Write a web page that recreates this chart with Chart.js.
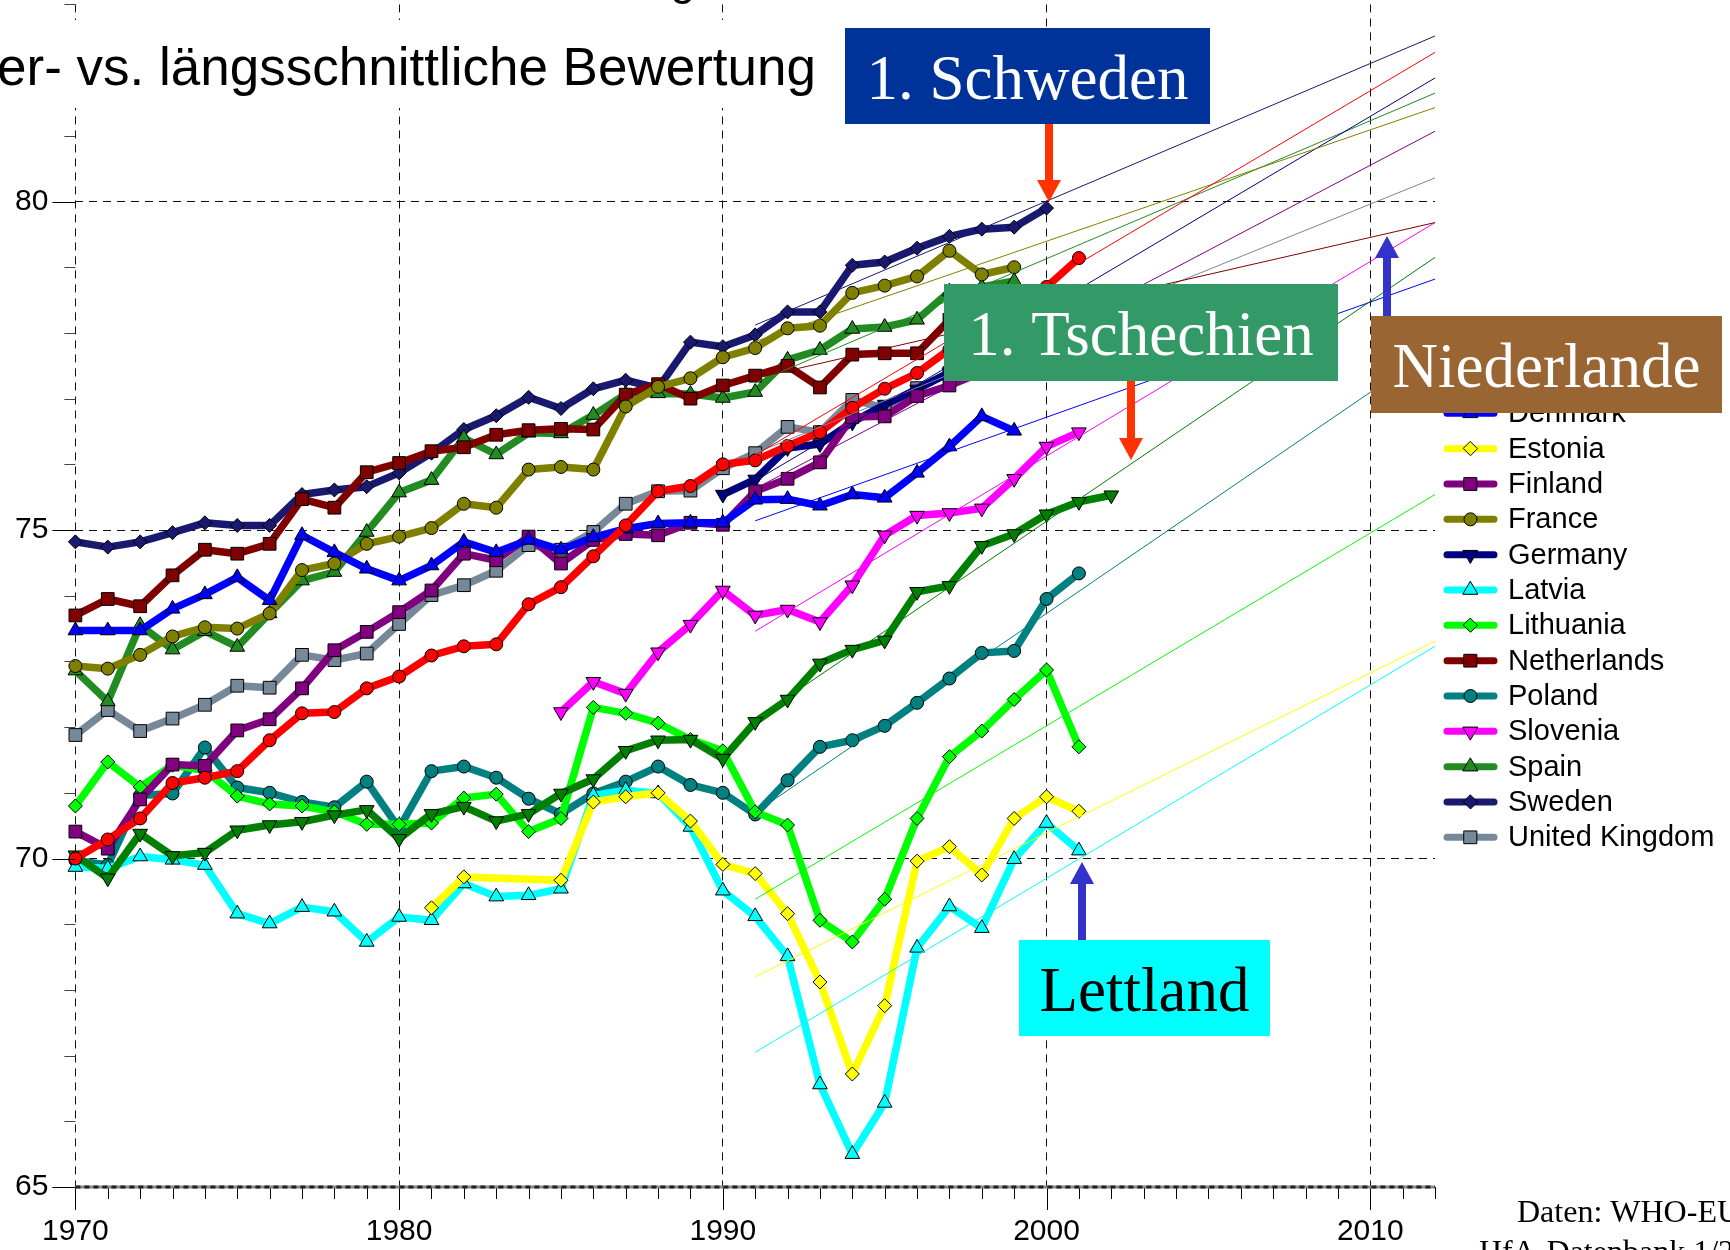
<!DOCTYPE html>
<html>
<head>
<meta charset="utf-8">
<script src="https://cdn.jsdelivr.net/npm/chart.js@4/dist/chart.umd.min.js"></script>
<style>
  html, body { margin: 0; padding: 0; background: #fff; }
  canvas { display: block; }
</style>
</head>
<body>
<canvas id="c" width="1730" height="1250"></canvas>
<script>
// Lebenserwartung bei Geburt, 1970-2002 (gelesen aus der Grafik)
const years = [1970,1971,1972,1973,1974,1975,1976,1977,1978,1979,
               1980,1981,1982,1983,1984,1985,1986,1987,1988,1989,
               1990,1991,1992,1993,1994,1995,1996,1997,1998,1999,
               2000,2001,2002]

const austria     = [70.00,70.29,70.61,71.15,71.23,71.33,71.80,72.21,72.23,72.59, 72.77,73.09,73.23,73.26,73.87,74.13,74.60,75.07,75.59,75.67, 76.00,76.06,76.28,76.49,76.86,77.15,77.39,77.75,77.95,78.20, 78.70,79.14,null]
const czech       = [70.05,69.70,70.38,70.04,70.09,70.43,70.51,70.56,70.66,70.74, 70.30,70.68,70.79,70.57,70.68,70.99,71.21,71.64,71.80,71.81, 71.52,72.08,72.42,72.97,73.18,73.32,74.06,74.15,74.76,74.94, 75.24,75.43,75.53]
const denmark     = [73.47,73.47,73.47,73.80,74.02,74.28,73.93,74.92,74.66,74.41, 74.23,74.46,74.82,74.66,74.85,74.70,74.89,75.02,75.10,75.11, 75.11,75.46,75.47,75.37,75.54,75.49,75.87,76.27,76.73,76.51, null,null,null]
const estonia     = [null,null,null,null,null,null,null,null,null,null, null,69.25,69.72,null,null,69.67,70.86,70.94,71.00,70.57, 69.91,69.77,69.16,68.12,66.72,67.76,69.96,70.18,69.75,70.61, 70.94,70.72,null]
const finland     = [70.41,70.15,70.90,71.43,71.41,71.95,72.12,72.59,73.17,73.45, 73.75,74.08,74.64,74.54,74.90,74.49,74.85,74.94,74.92,75.11, 75.08,75.59,75.78,76.03,76.72,76.73,77.04,77.20,77.40,77.50, 77.70,null,null]
const france      = [72.93,72.89,73.10,73.38,73.52,73.50,73.73,74.39,74.49,74.79, 74.90,75.03,75.40,75.34,75.92,75.96,75.92,76.88,77.18,77.31, 77.63,77.77,78.07,78.11,78.61,78.72,78.86,79.25,78.89,79.00, null,null,null]
const germany     = [null,null,null,null,null,null,null,null,null,null, null,null,null,null,null,null,null,null,null,null, 75.54,75.77,76.25,76.31,76.64,76.91,77.14,77.40,77.60,77.80, null,null,null]
const latvia      = [69.87,69.85,70.03,69.98,69.90,69.16,69.01,69.26,69.19,68.73, 69.11,69.06,69.62,69.42,69.44,69.54,70.96,71.04,70.99,70.48, 69.51,69.12,68.51,66.56,65.50,66.28,68.64,69.27,68.94,69.99, 70.54,70.12,null]
const lithuania   = [70.80,71.47,71.09,71.42,71.34,70.95,70.83,70.80,70.71,70.52, 70.52,70.54,70.92,70.98,70.41,70.61,72.30,72.21,72.06,71.81, 71.64,70.71,70.51,69.06,68.73,69.38,70.61,71.55,71.94,72.42, 72.87,71.70,null]
const netherlands = [73.70,73.95,73.84,74.31,74.70,74.64,74.79,75.47,75.34,75.88, 76.02,76.20,76.26,76.45,76.52,76.54,76.53,77.06,77.22,77.00, 77.20,77.35,77.50,77.17,77.67,77.69,77.69,78.20,78.10,78.10, 78.20,null,null]
const poland      = [69.97,69.90,70.96,70.99,71.69,71.08,71.00,70.86,70.78,71.17, 70.46,71.33,71.40,71.23,70.91,70.68,70.99,71.17,71.40,71.12, 71.00,70.67,71.19,71.70,71.80,72.02,72.37,72.74,73.13,73.16, 73.95,74.34,null]
const slovenia    = [null,null,null,null,null,null,null,null,null,null, null,null,null,null,null,72.23,72.69,72.51,73.14,73.56, 74.08,73.70,73.79,73.60,74.16,74.92,75.22,75.26,75.33,75.78, 76.27,76.49,null]
const spain       = [72.86,72.39,73.55,73.18,73.46,73.22,73.73,74.23,74.36,74.97, 75.57,75.76,76.40,76.15,76.48,76.47,76.75,77.07,77.08,77.07, 77.01,77.10,77.59,77.74,78.06,78.09,78.20,78.63,78.70,78.79, null,null,null]
const sweden      = [74.82,74.74,74.82,74.96,75.11,75.07,75.07,75.54,75.61,75.66, 75.87,76.17,76.53,76.74,77.02,76.85,77.15,77.28,77.16,77.86, 77.79,77.97,78.32,78.32,79.03,79.08,79.29,79.47,79.58,79.61, 79.90,null,null]
const uk          = [71.88,72.26,71.94,72.13,72.34,72.63,72.60,73.10,73.02,73.12, 73.57,74.01,74.16,74.38,74.77,74.70,74.97,75.40,75.59,75.60, 75.94,76.17,76.57,76.49,76.98,76.86,77.16,77.39,77.50,77.60, null,null,null]

const countries = ['Austria','Czech Republic','Denmark','Estonia','Finland','France','Germany',
                   'Latvia','Lithuania','Netherlands','Poland','Slovenia','Spain','Sweden','United Kingdom']
const series = [austria, czech, denmark, estonia, finland, france, germany,
                latvia, lithuania, netherlands, poland, slovenia, spain, sweden, uk]

// lineare Trends (Längsschnitt), 1991 bis 2012
const trendYears = [1991, 2012]
const trendStart = [76.14, 72.12, 75.14, 68.20, 75.63, 77.87, 75.75, 67.05, 69.38, 77.31, 70.70, 73.46, 77.24, 78.12, 76.17]
const trendEnd   = [82.27, 79.15, 78.82, 73.31, 81.07, 81.43, 81.88, 73.23, 75.54, 79.68, 77.77, 79.68, 81.65, 82.52, 80.36]

const xTicks = [1970, 1980, 1990, 2000, 2010]
const yTicks = [65, 70, 75, 80]

// styles
const colors  = ['#ff0000','#008000','#0000ff','#ffff00','#800080','#808000','#000080',
                 '#00ffff','#00ff00','#800000','#008080','#ff00ff','#228b22','#191970','#778899']
const markers = ['circle','triangle','triangle','rectRot','rect','circle','triangle',
                 'triangle','rectRot','rect','circle','triangle','triangle','rectRot','rect']
const flipped = [false,true,false,false,false,false,true,false,false,false,false,true,false,false,false]
const radiusOf = { circle: 6.5, rect: 9, rectRot: 7, triangle: 8.5 }

const trendSets = countries.map((name, i) => ({
  label: name + ' Trend',
  data: trendYears.map((x, k) => ({ x: x, y: k ? trendEnd[i] : trendStart[i] })),
  borderColor: colors[i],
  borderWidth: 1,
  pointRadius: 0,
  order: 0
}))

const dataSets = countries.map((name, i) => ({
  label: name,
  data: years.map((x, k) => ({ x: x, y: series[i][k] })),
  borderColor: colors[i],
  backgroundColor: colors[i],
  borderWidth: 7.5,
  borderJoinStyle: 'round',
  borderCapStyle: 'round',
  pointStyle: markers[i],
  pointRotation: flipped[i] ? 180 : 0,
  pointRadius: radiusOf[markers[i]],
  pointBackgroundColor: colors[i],
  pointBorderColor: '#000',
  pointBorderWidth: 1,
  spanGaps: true,
  clip: false,
  order: 1
}))

function drawMarker(ctx, style, x, y, r, flip) {
  ctx.beginPath()
  if (style === 'circle') ctx.arc(x, y, r, 0, Math.PI * 2)
  else if (style === 'rect') { const s = r * Math.SQRT1_2; ctx.rect(x - s, y - s, 2 * s, 2 * s) }
  else if (style === 'rectRot') { ctx.moveTo(x, y - r); ctx.lineTo(x + r, y); ctx.lineTo(x, y + r); ctx.lineTo(x - r, y); ctx.closePath() }
  else {
    const d = flip ? -1 : 1, w = r * Math.sqrt(3) / 2
    ctx.moveTo(x, y - d * r); ctx.lineTo(x + w, y + d * r / 2); ctx.lineTo(x - w, y + d * r / 2); ctx.closePath()
  }
  ctx.fill(); ctx.stroke()
}

function drawArrow(ctx, x, y0, y1, color) {
  const dir = y1 > y0 ? 1 : -1, head = 22
  ctx.fillStyle = color
  ctx.fillRect(x - 4, Math.min(y0, y1 - dir * head), 8, Math.abs(y1 - dir * head - y0))
  ctx.beginPath()
  ctx.moveTo(x, y1); ctx.lineTo(x - 12, y1 - dir * head); ctx.lineTo(x + 12, y1 - dir * head); ctx.closePath()
  ctx.fill()
}

function drawBox(ctx, x, y, w, h, bg, text, fg) {
  ctx.fillStyle = bg
  ctx.fillRect(x, y, w, h)
  ctx.fillStyle = fg
  ctx.font = '63px "Liberation Serif", "Times New Roman", serif'
  ctx.textAlign = 'center'
  ctx.textBaseline = 'alphabetic'
  ctx.fillText(text, x + w / 2, y + 71)
}

const overlay = {
  id: 'overlay',
  afterDraw(chart) {
    const { ctx, chartArea: a, scales } = chart
    const sx = scales.x, sy = scales.y
    ctx.save()

    // Teilstriche
    ctx.lineWidth = 1
    for (let v = 65; v <= 83; v++) {
      const py = Math.round(sy.getPixelForValue(v)) + 0.5
      const len = v % 5 ? 11 : 23
      ctx.strokeStyle = v % 5 ? '#444' : '#000'
      ctx.beginPath(); ctx.moveTo(a.left - len, py); ctx.lineTo(a.left, py); ctx.stroke()
    }
    for (let yr = 1970; yr <= 2012; yr++) {
      const px = Math.round(sx.getPixelForValue(yr)) + 0.5
      const len = yr % 10 ? 12 : 23
      ctx.strokeStyle = '#000'
      ctx.beginPath(); ctx.moveTo(px, a.bottom); ctx.lineTo(px, a.bottom + len); ctx.stroke()
    }
    // x-Achse
    ctx.lineWidth = 3
    ctx.strokeStyle = '#888'
    ctx.beginPath(); ctx.moveTo(a.left, a.bottom); ctx.lineTo(a.right, a.bottom); ctx.stroke()
    ctx.setLineDash([5, 4])
    ctx.strokeStyle = '#222'
    ctx.beginPath(); ctx.moveTo(a.left, a.bottom); ctx.lineTo(a.right, a.bottom); ctx.stroke()
    ctx.setLineDash([])

    // Legende
    const sets = chart.data.datasets.filter(d => d.order === 1)
    sets.forEach((d, i) => {
      const ly = 342.7 + i * 35.33
      ctx.strokeStyle = d.borderColor
      ctx.lineWidth = 7
      ctx.lineCap = 'round'
      ctx.beginPath(); ctx.moveTo(1447, ly); ctx.lineTo(1494, ly); ctx.stroke()
      ctx.fillStyle = d.pointBackgroundColor
      ctx.strokeStyle = '#000'
      ctx.lineWidth = 1
      drawMarker(ctx, d.pointStyle, 1470.5, ly, d.pointRadius, d.pointRotation === 180)
      ctx.fillStyle = '#000'
      ctx.font = '29px "Liberation Sans", Arial, sans-serif'
      ctx.textAlign = 'left'
      ctx.textBaseline = 'middle'
      ctx.fillText(d.label, 1508, ly + 1)
    })

    // Titelzeile
    ctx.fillStyle = '#fff'
    ctx.fillRect(0, 20, 838, 88)
    ctx.fillStyle = '#000'
    ctx.font = '53px "Liberation Sans", Arial, sans-serif'
    ctx.textAlign = 'right'
    ctx.textBaseline = 'alphabetic'
    ctx.fillText('er- vs. längsschnittliche Bewertung', 816, 85)
    ctx.textAlign = 'left'
    ctx.font = '46px "Liberation Sans", Arial, sans-serif'
    ctx.fillText('g', 670, -6)

    // Markierungen
    drawBox(ctx, 845, 28, 365, 96, '#003399', '1. Schweden', '#fff')
    drawBox(ctx, 944, 284, 394, 97, '#339966', '1. Tschechien', '#fff')
    drawBox(ctx, 1371, 316, 351, 97, '#996633', 'Niederlande', '#fff')
    drawBox(ctx, 1019, 940, 251, 96, '#00ffff', 'Lettland', '#000')
    drawArrow(ctx, 1049, 124, 202, '#ff3300')
    drawArrow(ctx, 1131, 381, 460, '#ff3300')
    drawArrow(ctx, 1387, 316, 236, '#3333cc')
    drawArrow(ctx, 1082, 940, 862, '#3333cc')

    // Quelle
    ctx.fillStyle = '#000'
    ctx.font = '32px "Liberation Serif", "Times New Roman", serif'
    ctx.textAlign = 'left'
    ctx.fillText('Daten: WHO-EU', 1517, 1222)
    ctx.fillText('HfA-Datenbank 1/2004', 1479, 1262)
    ctx.restore()
  }
}

new Chart(document.getElementById('c'), {
  type: 'line',
  data: { datasets: trendSets.concat(dataSets) },
  options: {
    responsive: false,
    animation: false,
    events: [],
    layout: { autoPadding: false, padding: { left: 0, right: 295, top: 4.45, bottom: 0 } },
    plugins: { legend: { display: false }, tooltip: { enabled: false } },
    scales: {
      x: {
        type: 'linear', min: 1970, max: 2012,
        afterBuildTicks: s => { s.ticks = xTicks.map(v => ({ value: v })) },
        afterFit: s => { s.height = 63; s.paddingLeft = 0; s.paddingRight = 0 },
        grid: { color: '#111', lineWidth: 1, drawTicks: false },
        border: { display: false, dash: [8, 6] },
        ticks: { color: '#000', padding: 27, maxRotation: 0, autoSkip: false,
                 font: { family: '"Liberation Sans", Arial, sans-serif', size: 30 },
                 callback: v => String(v) }
      },
      y: {
        min: 65, max: 83,
        afterBuildTicks: s => { s.ticks = yTicks.map(v => ({ value: v })) },
        afterFit: s => { s.width = 75.4; s.paddingTop = 0; s.paddingBottom = 0 },
        grid: { color: '#111', lineWidth: 1, drawTicks: false },
        border: { display: false, dash: [8, 6] },
        ticks: { color: '#000', padding: 27, autoSkip: false,
                 font: { family: '"Liberation Sans", Arial, sans-serif', size: 30 },
                 callback: v => String(v) }
      }
    }
  },
  plugins: [overlay]
})
</script>
</body>
</html>
